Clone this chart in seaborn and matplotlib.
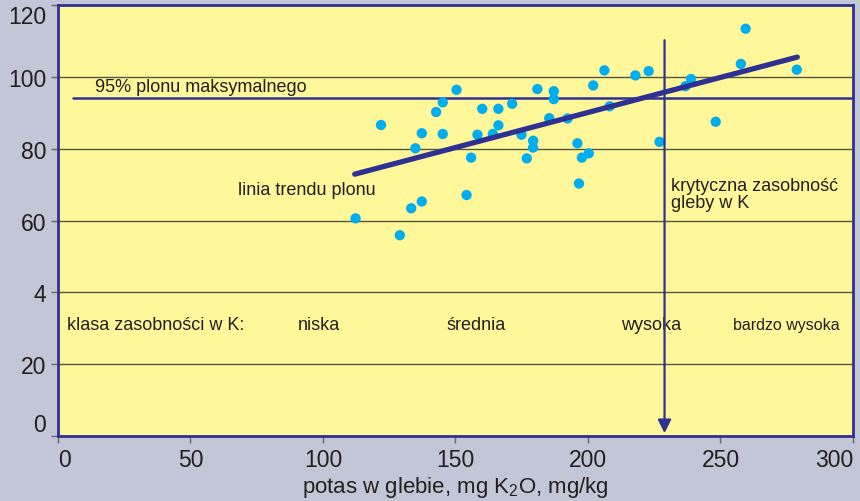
import seaborn as sns
import matplotlib.pyplot as plt
import pandas as pd

# potassium in soil (mg K2O/kg) vs relative yield
potas = [112.3, 121.9, 129.0, 133.3, 134.9, 137.3, 137.3, 142.7, 145.2, 145.2,
         150.4, 154.2, 155.9, 158.3, 160.1, 164.1, 166.2, 166.2, 171.4, 174.9,
         176.9, 179.3, 179.3, 180.9, 185.4, 187.1, 187.1, 192.3, 196.0, 196.6,
         197.7, 200.3, 202.0, 206.2, 208.2, 217.9, 222.9, 227.0, 236.8, 238.9,
         248.2, 257.7, 259.5, 278.8]
plon = [60.6, 86.6, 55.9, 63.4, 80.1, 65.3, 84.3, 90.2, 92.9, 84.1,
        96.4, 67.1, 77.5, 83.9, 91.1, 84.1, 91.1, 86.5, 92.5, 83.9,
        77.3, 80.3, 82.2, 96.6, 88.5, 96.0, 93.8, 88.4, 81.5, 70.3,
        77.5, 78.7, 97.6, 101.8, 91.8, 100.4, 101.6, 81.9, 97.4, 99.4,
        87.5, 103.6, 113.4, 102.0]

trend_x = [112, 279]
trend_y = [72.9, 105.5]

level_95 = 94.1
level_x = [5.5, 300]
krytyczna = 228.9

klasy = ['niska', 'średnia', 'wysoka', 'bardzo wysoka']
klasy_x = [98.5, 157.7, 224, 275]

yticks = [0, 20, 40, 60, 80, 100, 120]
ylabels = ['0', '20', '4', '60', '80', '100', '120']
xticks = [0, 50, 100, 150, 200, 250, 300]

navy = '#2e3192'
bg = '#c2c6d6'
yellow = '#fff799'

sns.set_style('ticks', {'axes.facecolor': yellow, 'figure.facecolor': bg})
plt.rcParams['font.family'] = ['Liberation Sans', 'DejaVu Sans']

fig = plt.figure(figsize=(8.6, 5.02), dpi=100)
ax = fig.add_axes([0.0674, 0.1295, 0.9244, 0.8585])

for y in yticks[1:-1]:
    ax.axhline(y, color='#555544', lw=1.0, zorder=1)

sns.lineplot(x=level_x, y=[level_95, level_95], color=navy, lw=1.8, ax=ax, zorder=2)

df = pd.DataFrame({'potas': potas, 'plon': plon})
sns.scatterplot(data=df, x='potas', y='plon', color='#00aeef', s=55,
                edgecolor='none', ax=ax, zorder=3)

sns.lineplot(x=trend_x, y=trend_y, color=navy, lw=3.8, ax=ax, zorder=4)

ax.annotate('', xy=(krytyczna, 0.8), xytext=(krytyczna, 110.2),
            arrowprops=dict(arrowstyle='-|>', color=navy, lw=1.6,
                            mutation_scale=20, shrinkA=0, shrinkB=0), zorder=4)

tc = '#231f20'
ax.text(14, 94.9, '95% plonu maksymalnego', fontsize=13, color=tc, va='bottom')
ax.text(94, 68.5, 'linia trendu plonu', fontsize=13, color=tc, ha='center', va='center')
ax.text(231.5, 67.5, 'krytyczna zasobność\ngleby w K', fontsize=13, color=tc,
        va='center', linespacing=1.0)
ax.text(3.5, 31, 'klasa zasobności w K:', fontsize=13, color=tc, va='center')
for name, xpos in zip(klasy, klasy_x):
    fs = 11.5 if name == 'bardzo wysoka' else 13
    ax.text(xpos, 31, name, fontsize=fs, color=tc, ha='center', va='center')

ax.set_xlim(0, 300)
ax.set_ylim(0, 120)
ax.set_xticks(xticks)
ax.set_yticks(yticks)
ax.set_yticklabels(ylabels)
ax.tick_params(labelsize=16.5, colors='#666666', labelcolor=tc, length=5, width=1)
ax.get_yticklabels()[-1].set_va('top')
ax.get_yticklabels()[0].set_va('bottom')
ax.get_xticklabels()[0].set_ha('left')
ax.get_xticklabels()[-1].set_ha('right')
ax.set_xlabel(r'potas w glebie, mg K$_\mathregular{2}$O, mg/kg', fontsize=16, color=tc, labelpad=2)
ax.set_ylabel('')

for s in ax.spines.values():
    s.set_visible(True)
    s.set_color(navy)
    s.set_linewidth(2)

fig.savefig('out.png', dpi=100, facecolor=bg)
